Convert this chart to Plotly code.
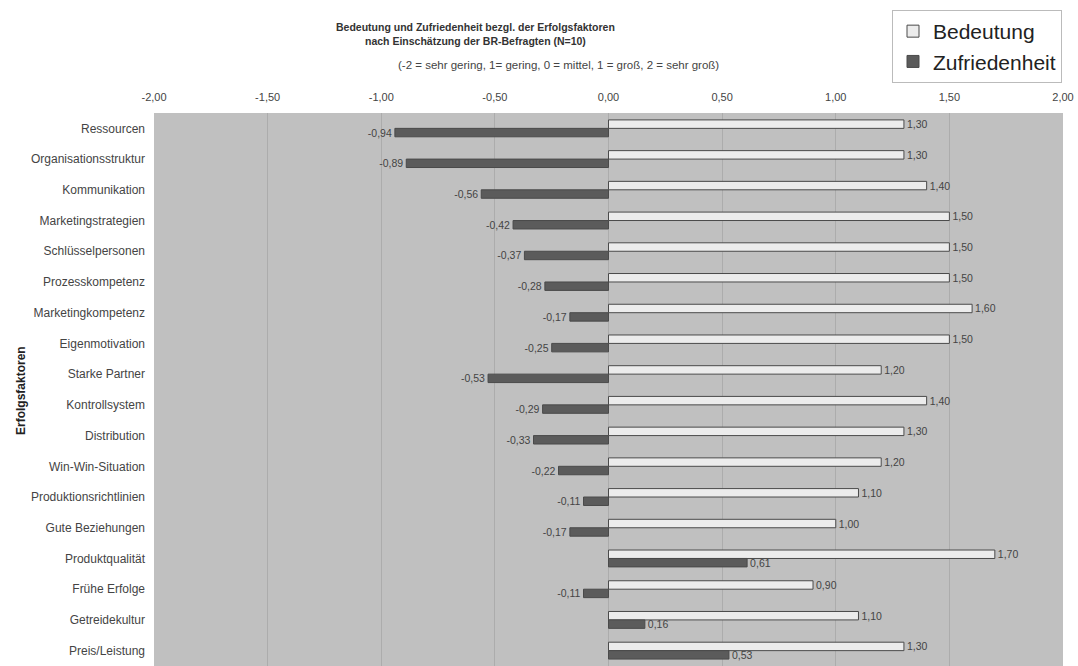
import plotly.graph_objects as go

categories = ["Ressourcen", "Organisationsstruktur", "Kommunikation", "Marketingstrategien",
              "Schlüsselpersonen", "Prozesskompetenz", "Marketingkompetenz", "Eigenmotivation",
              "Starke Partner", "Kontrollsystem", "Distribution", "Win-Win-Situation",
              "Produktionsrichtlinien", "Gute Beziehungen", "Produktqualität", "Frühe Erfolge",
              "Getreidekultur", "Preis/Leistung"]
bedeutung = [1.30, 1.30, 1.40, 1.50, 1.50, 1.50, 1.60, 1.50, 1.20, 1.40, 1.30, 1.20,
             1.10, 1.00, 1.70, 0.90, 1.10, 1.30]
zufriedenheit = [-0.94, -0.89, -0.56, -0.42, -0.37, -0.28, -0.17, -0.25, -0.53, -0.29,
                 -0.33, -0.22, -0.11, -0.17, 0.61, -0.11, 0.16, 0.53]
tick_vals = [-2.0, -1.5, -1.0, -0.5, 0.0, 0.5, 1.0, 1.5, 2.0]
tick_text = ["-2,00", "-1,50", "-1,00", "-0,50", "0,00", "0,50", "1,00", "1,50", "2,00"]


def fmt(v):
    return f"{v:.2f}".replace(".", ",")


FONT = "Arial, Liberation Sans, sans-serif"

fig = go.Figure()
fig.add_trace(go.Bar(
    y=categories, x=bedeutung, orientation="h", name="Bedeutung",
    marker=dict(color="#ececec", line=dict(color="#4a4a4a", width=1)),
    text=[fmt(v) for v in bedeutung], textposition="outside", cliponaxis=False,
    constraintext="none",
    textfont=dict(size=10.5, color="#444", family=FONT),
))
fig.add_trace(go.Bar(
    y=categories, x=zufriedenheit, orientation="h", name="Zufriedenheit",
    marker=dict(color="#5b5b5b", line=dict(color="#4a4a4a", width=1)),
    text=[fmt(v) for v in zufriedenheit], textposition="outside", cliponaxis=False,
    constraintext="none",
    textfont=dict(size=10.5, color="#444", family=FONT),
))

fig.update_layout(
    width=1078, height=666,
    margin=dict(l=154, r=15, t=113, b=0, autoexpand=False),
    paper_bgcolor="white", plot_bgcolor="#c0c0c0",
    barmode="group", bargap=0.45, bargroupgap=0.0,
    font=dict(family=FONT, color="#333"),
    showlegend=True,
    legend=dict(
        xref="container", yref="container", x=892 / 1078, y=1 - 10 / 666,
        xanchor="left", yanchor="top",
        font=dict(size=21, color="#222", family=FONT),
        bgcolor="white", bordercolor="#bbbbbb", borderwidth=1,
        tracegroupgap=0, itemwidth=30,
    ),
    xaxis=dict(
        side="top", range=[-2, 2], tickvals=tick_vals, ticktext=tick_text,
        tickfont=dict(size=11, color="#444"), ticks="", ticklabelstandoff=9,
        showgrid=True, gridcolor="#acacac", gridwidth=1, zeroline=False,
        showline=False,
    ),
    yaxis=dict(
        autorange="reversed", tickfont=dict(size=12, color="#444"),
        ticks="", showgrid=False, zeroline=False, ticklabelstandoff=8,
    ),
    annotations=[
        dict(xref="paper", yref="paper", x=(475 - 154) / 909, y=1 + (113 - 19) / 553,
             text="<b>Bedeutung und Zufriedenheit bezgl. der Erfolgsfaktoren<br>nach Einschätzung der BR-Befragten (N=10)</b>",
             showarrow=False, font=dict(size=10.5, color="#333"), align="center"),
        dict(xref="paper", yref="paper", x=(558 - 154) / 909, y=1 + (113 - 57) / 553,
             text="(-2 = sehr gering, 1= gering, 0 = mittel, 1 = groß, 2 = sehr groß)",
             showarrow=False, font=dict(size=11.5, color="#444"), align="center"),
        dict(xref="paper", yref="paper", x=-140 / 909, y=1 - (391 - 113) / 553,
             text="<b>Erfolgsfaktoren</b>", textangle=-90,
             showarrow=False, font=dict(size=12, color="#222"), align="center"),
    ],
)
fig.layout.annotations[2].x = -142 / 909

fig.write_html("out.html")
